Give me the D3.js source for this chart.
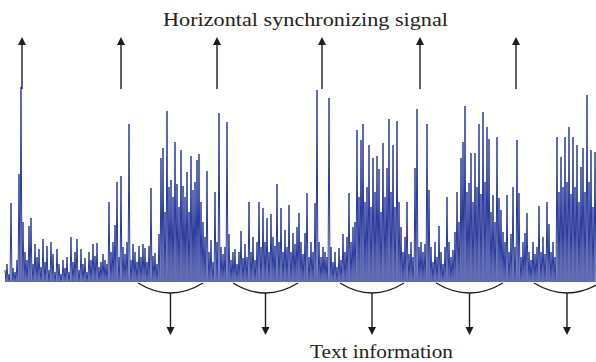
<!DOCTYPE html>
<html>
<head>
<meta charset="utf-8">
<script src="https://cdn.jsdelivr.net/npm/d3@7"></script>
<style>
  html, body { margin: 0; padding: 0; background: #fff; }
  svg { display: block; }
  .label { font-family: "Liberation Serif", "Times New Roman", serif; fill: #222; }
</style>
</head>
<body>
<figure id="signal" style="margin:0"></figure>
<script>
// signal amplitude (peak of each sample), one per sample
const amplitude = [
  12, 18, 8, 79, 14, 10, 22, 108, 195, 60,
  30, 22, 56, 64, 18, 38, 25, 33, 15, 43,
  20, 36, 12, 40, 28, 10, 33, 18, 8, 22,
  14, 25, 10, 45, 20, 30, 43, 12, 33, 18,
  24, 10, 30, 22, 38, 26, 39, 15, 20, 28,
  22, 18, 80, 30, 40, 57, 100, 25, 106, 35,
  28, 40, 158, 22, 38, 30, 20, 36, 25, 38,
  34, 20, 36, 94, 26, 29, 18, 48, 124, 134,
  70, 171, 95, 102, 85, 140, 98, 75, 132, 96,
  85, 110, 70, 126, 92, 100, 122, 128, 80, 60,
  45, 111, 30, 42, 20, 90, 40, 169, 35, 28,
  35, 160, 48, 22, 30, 33, 18, 30, 51, 24,
  38, 25, 80, 30, 45, 22, 40, 80, 35, 74,
  40, 64, 30, 68, 45, 36, 98, 40, 74, 30,
  52, 35, 77, 30, 49, 38, 55, 69, 40, 28,
  49, 89, 25, 40, 30, 79, 192, 40, 25, 35,
  30, 25, 184, 35, 20, 30, 15, 34, 22, 48,
  30, 45, 89, 40, 55, 60, 152, 85, 142, 158,
  80, 95, 137, 75, 124, 90, 126, 113, 70, 139,
  85, 114, 163, 90, 137, 75, 161, 80, 55, 30,
  45, 80, 28, 40, 25, 114, 173, 35, 40, 30,
  38, 158, 92, 35, 20, 40, 25, 56, 30, 18,
  35, 85, 40, 25, 32, 50, 90, 60, 124, 140,
  176, 90, 99, 129, 80, 129, 95, 158, 88, 170,
  100, 155, 143, 70, 87, 60, 145, 84, 72, 50,
  40, 87, 30, 48, 95, 35, 142, 89, 25, 40,
  49, 69, 30, 22, 40, 28, 35, 76, 30, 45,
  28, 80, 58, 30, 40, 25, 145, 90, 125, 95,
  145, 100, 155, 88, 145, 95, 137, 80, 115, 134,
  90, 187, 100, 132, 75, 130
];

// horizontal sync pulses (sample index)
const syncAt = [8.5, 58, 106, 158.5, 207.5, 255.5];
// text information blocks: [start, end] sample index
const textSpans = [[66.5, 99], [114, 146.5], [167.5, 199.5], [215.5, 249], [264.5, 297.5]];

const titleTop = "Horizontal synchronizing signal";
const titleBottom = "Text information";

const width = 596;
const height = 362;
const base = 282;   // baseline of the signal
const ink = "#1c1c1c";

const svg = d3.select("figure#signal")
  .append("svg")
  .attr("width", width)
  .attr("height", height);

const x = d3.scaleLinear()
  .domain([0, amplitude.length - 1])
  .range([5, 595]);

const y = d3.scaleLinear()
  .domain([0, 200])
  .range([base, base - 200]);

// signal: each sample goes up to its peak and back down to the floor
const pts = [];
amplitude.forEach((v, i) => {
  pts.push([x(i), y(v)]);
  pts.push([x(i + 0.5), y(0)]);
});

svg.append("path")
  .attr("d", d3.line()(pts))
  .attr("fill", "none")
  .attr("stroke", "#2b3b9c")
  .attr("stroke-width", 1)
  .attr("stroke-linejoin", "miter");

// up arrows (sync)
const up = svg.append("g");
syncAt.forEach(s => {
  const cx = x(s);
  up.append("line")
    .attr("x1", cx).attr("x2", cx)
    .attr("y1", 89).attr("y2", 44)
    .attr("stroke", ink).attr("stroke-width", 1.4);
  up.append("path")
    .attr("d", `M${cx},37L${cx - 4},45L${cx + 4},45Z`)
    .attr("fill", ink);
});

// braces + down arrows (text)
const down = svg.append("g");
textSpans.forEach(([a, b]) => {
  const x1 = x(a), x2 = x(b), cx = (x1 + x2) / 2;
  down.append("path")
    .attr("d", `M${x1},283Q${cx},303 ${x2},283`)
    .attr("fill", "none")
    .attr("stroke", ink).attr("stroke-width", 1.3);
  down.append("line")
    .attr("x1", cx).attr("x2", cx)
    .attr("y1", 293).attr("y2", 328)
    .attr("stroke", ink).attr("stroke-width", 1.4);
  down.append("path")
    .attr("d", `M${cx},335L${cx - 4},327L${cx + 4},327Z`)
    .attr("fill", ink);
});

svg.append("text")
  .attr("class", "label")
  .attr("x", 305.5).attr("y", 26)
  .attr("text-anchor", "middle")
  .attr("font-size", 19)
  .attr("textLength", 285)
  .attr("lengthAdjust", "spacingAndGlyphs")
  .text(titleTop);

svg.append("text")
  .attr("class", "label")
  .attr("x", 381.5).attr("y", 358)
  .attr("text-anchor", "middle")
  .attr("font-size", 19)
  .attr("textLength", 143)
  .attr("lengthAdjust", "spacingAndGlyphs")
  .text(titleBottom);
</script>
</body>
</html>
